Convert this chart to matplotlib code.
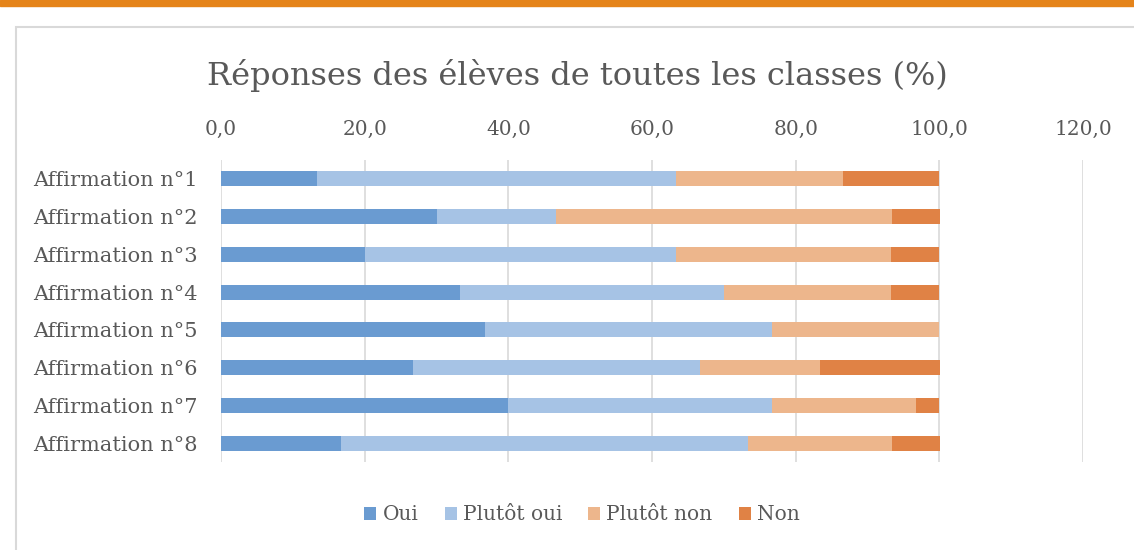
import matplotlib.pyplot as plt
from matplotlib.patches import Rectangle

categories = ["Affirmation n°1", "Affirmation n°2", "Affirmation n°3", "Affirmation n°4",
              "Affirmation n°5", "Affirmation n°6", "Affirmation n°7", "Affirmation n°8"]
oui = [13.3, 30.0, 20.0, 33.3, 36.7, 26.7, 40.0, 16.7]
plutot_oui = [50.0, 16.7, 43.3, 36.7, 40.0, 40.0, 36.7, 56.7]
plutot_non = [23.3, 46.7, 30.0, 23.3, 23.3, 16.7, 20.0, 20.0]
non = [13.3, 6.7, 6.7, 6.7, 0.0, 16.7, 3.3, 6.7]
series_names = ["Oui", "Plutôt oui", "Plutôt non", "Non"]
colors = ["#6A9BD1", "#A6C3E5", "#EDB68C", "#E08245"]
xticks = [0, 20, 40, 60, 80, 100, 120]

text_col = "#595959"
plt.rcParams['font.family'] = ['DejaVu Serif']

fig = plt.figure(figsize=(11.34, 5.5), dpi=100)
W, H = 1134, 550

# orange strip on top and chart frame
fig.patches.append(Rectangle((0, 1 - 6 / H), 1, 6 / H, transform=fig.transFigure,
                             color="#E5841A", zorder=0))
fig.patches.append(Rectangle((16 / W, -0.1), 1.1, 1 - 27 / H + 0.1, transform=fig.transFigure,
                             facecolor="white", edgecolor="#D9D9D9", lw=1.5, zorder=0))

ax = fig.add_axes([221 / W, 1 - 462 / H, (1083 - 221) / W, (462 - 160) / H])
ax.set_zorder(2)
ax.set_facecolor("none")

y = list(range(len(categories)))
left = [0.0] * len(categories)
for vals, name, c in zip([oui, plutot_oui, plutot_non, non], series_names, colors):
    ax.barh(y, vals, left=left, height=0.4, color=c, label=name, zorder=3)
    left = [l + v for l, v in zip(left, vals)]

ax.set_ylim(len(categories) - 0.5, -0.5)
ax.set_xlim(0, 120)
ax.set_yticks(y)
ax.set_yticklabels(categories, fontsize=15, color=text_col)
ax.set_xticks(xticks)
ax.set_xticklabels([f"{t:.1f}".replace(".", ",") for t in xticks], fontsize=14.5, color=text_col)
ax.xaxis.tick_top()
ax.tick_params(axis="both", length=0)
ax.tick_params(axis="x", pad=15)
ax.tick_params(axis="y", pad=17)
ax.grid(axis="x", color="#D9D9D9", lw=1.2, zorder=0)
for s in ax.spines.values():
    s.set_visible(False)

fig.text(577 / W, 1 - 75 / H, "Réponses des élèves de toutes les classes (%)",
         ha="center", va="center", fontsize=23, color=text_col, zorder=3)

fig.legend(loc="center", bbox_to_anchor=(582 / W, 1 - 515 / H), ncol=4, frameon=False,
           fontsize=14.5, labelcolor=text_col, handlelength=0.6, handleheight=0.6,
           handletextpad=0.3, columnspacing=1.3).set_zorder(3)

fig.savefig("out.png", dpi=100)
